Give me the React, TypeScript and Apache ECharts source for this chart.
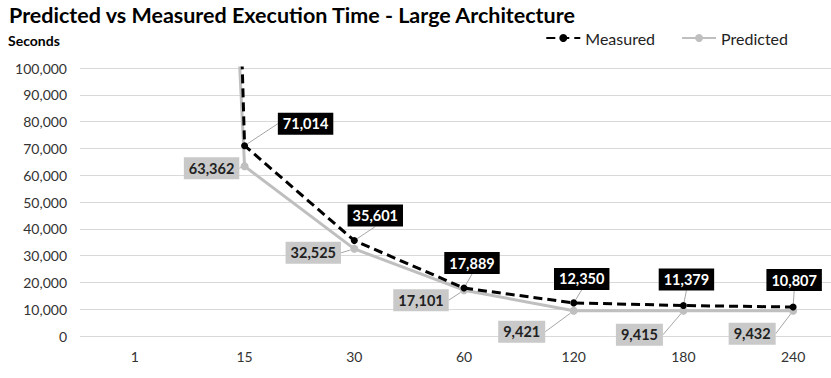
import React, { useEffect, useRef } from "react";
import * as echarts from "echarts";

const categories = ["1", "15", "30", "60", "120", "180", "240"];
const measured = [1450000, 71014, 35601, 17889, 12350, 11379, 10807];
const predicted = [900000, 63362, 32525, 17101, 9421, 9415, 9432];
const yTicks = { min: 0, max: 100000, interval: 10000 };

// label offsets (dx, dy) relative to each point
const measuredOffsets: [number, number][] = [
  [0, 0], [61, -22], [21, -25], [8, -25], [8, -24], [3, -26], [1, -27],
];
const predictedOffsets: [number, number][] = [
  [0, 0], [-33, 2], [-41, 4], [-43, 10], [-52, 21], [-44, 24], [-41, 23],
];

const FONT = "Lato, 'Open Sans', sans-serif";

export default function App() {
  const ref = useRef<HTMLDivElement>(null);
  useEffect(() => {
    if (!ref.current) return;
    const chart = echarts.init(ref.current, undefined, { renderer: "svg" });
    chart.setOption({
      animation: false,
      textStyle: { fontFamily: FONT },
      title: {
        text: "Predicted vs Measured Execution Time - Large Architecture",
        left: 4,
        top: -1,
        textStyle: { fontSize: 21.5, fontWeight: "bold", color: "#000", fontFamily: FONT },
      },
      legend: {
        right: 55,
        top: 25,
        itemWidth: 34,
        itemHeight: 10,
        itemGap: 26,
        textStyle: { fontSize: 16, color: "#222", fontFamily: FONT },
        data: ["Measured", "Predicted"],
      },
      grid: { left: 80, right: 0, top: 68, bottom: 42 },
      xAxis: {
        type: "category",
        data: categories,
        boundaryGap: true,
        axisLine: { show: false },
        axisTick: { show: false },
        axisLabel: { fontSize: 14, color: "#333", margin: 13, fontFamily: FONT },
      },
      yAxis: {
        type: "value",
        min: yTicks.min,
        max: yTicks.max,
        interval: yTicks.interval,
        name: "Seconds",
        nameLocation: "end",
        nameGap: 21,
        nameTextStyle: { fontSize: 14, fontWeight: "bold", color: "#000", align: "left", padding: [0, 0, 0, -72], fontFamily: FONT },
        axisLabel: {
          fontSize: 14,
          color: "#333",
          margin: 13,
          fontFamily: FONT,
          formatter: (v: number) => v.toLocaleString("en-US"),
        },
        splitLine: { lineStyle: { color: "#d9d9d9", width: 1 } },
      },
      series: [
        {
          name: "Predicted",
          type: "line",
          data: predicted,
          z: 2,
          symbol: "circle",
          symbolSize: 8,
          itemStyle: { color: "#bfbfbf" },
          lineStyle: { color: "#bfbfbf", width: 3 },
          label: {
            show: true,
            position: "inside",
            formatter: (p: any) => (p.dataIndex === 0 ? "" : p.value.toLocaleString("en-US")),
            backgroundColor: "#c9c9c9",
            color: "#222",
            fontWeight: "bold",
            fontSize: 14.5,
            padding: [4, 5, 3, 5],
            fontFamily: FONT,
          },
          labelLine: { show: true, lineStyle: { color: "#a6a6a6", width: 1 } },
          labelLayout: (p: any) => ({
            dx: predictedOffsets[p.dataIndex][0],
            dy: predictedOffsets[p.dataIndex][1],
          }),
        },
        {
          name: "Measured",
          type: "line",
          data: measured,
          z: 3,
          symbol: "circle",
          symbolSize: 7,
          itemStyle: { color: "#000" },
          lineStyle: { color: "#000", width: 3, type: [9, 5] },
          label: {
            show: true,
            position: "inside",
            formatter: (p: any) => (p.dataIndex === 0 ? "" : p.value.toLocaleString("en-US")),
            backgroundColor: "#000",
            color: "#fff",
            fontWeight: "bold",
            fontSize: 14.5,
            padding: [4, 5, 3, 5],
            fontFamily: FONT,
          },
          labelLine: { show: true, lineStyle: { color: "#a6a6a6", width: 1 } },
          labelLayout: (p: any) => ({
            dx: measuredOffsets[p.dataIndex][0],
            dy: measuredOffsets[p.dataIndex][1],
          }),
        },
      ],
    });
    return () => chart.dispose();
  }, []);
  return (
    <div
      ref={ref}
      style={{ position: "fixed", left: 0, top: 0, width: 848, height: 378, background: "#fff" }}
    />
  );
}
